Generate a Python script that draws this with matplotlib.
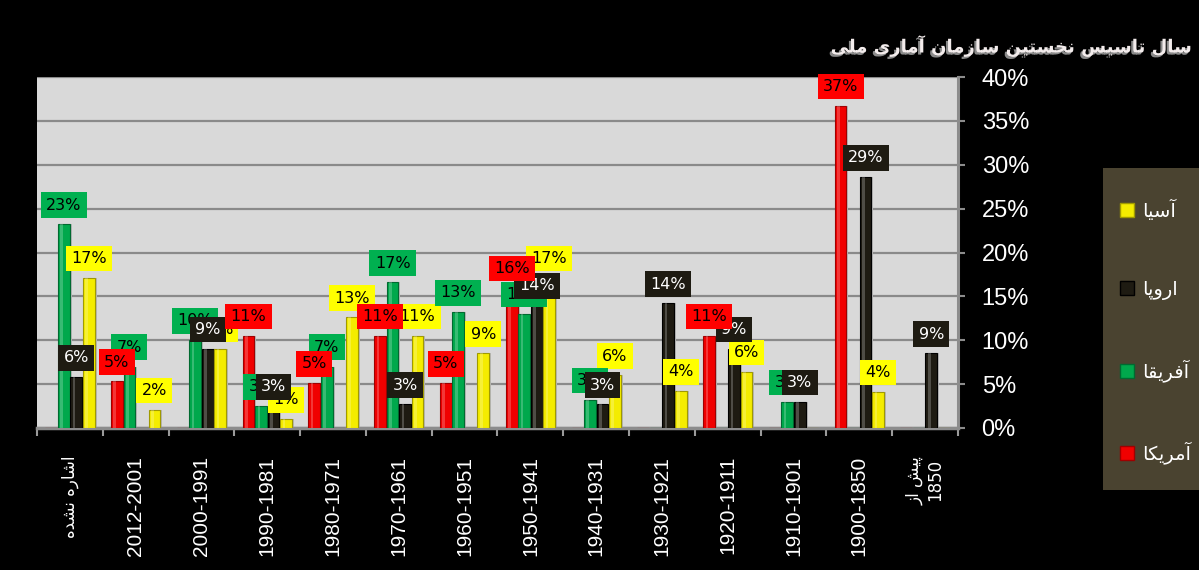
import numpy as np
import matplotlib
matplotlib.use("Agg")
import matplotlib.pyplot as plt
import matplotlib.patheffects as pe
from matplotlib.patches import Rectangle, Patch
from matplotlib.ticker import FuncFormatter, FixedLocator

# ---------------- data ----------------
categories = ['اشاره نشده', '2012-2001', '2000-1991', '1990-1981', '1980-1971',
              '1970-1961', '1960-1951', '1950-1941', '1940-1931', '1930-1921',
              '1920-1911', '1910-1901', '1900-1850', 'پیش از\n1850']
series_names = ['آمریکا', 'آفریقا', 'اروپا', 'آسیا']
america = [0, 5.3, 0, 10.5, 5.1, 10.5, 5.1, 16, 0, 0, 10.5, 0, 36.7, 0]
africa = [23.2, 7, 10, 2.5, 7, 16.6, 13.2, 13, 3.2, 0, 0, 3, 0, 0]
europe = [5.8, 0, 9, 2.5, 0, 2.7, 0, 14, 2.7, 14.2, 9, 3, 28.6, 8.5]
asia = [17.1, 2.05, 9, 1, 12.6, 10.5, 8.5, 17.1, 6, 4.2, 6.4, 0, 4.1, 0]
title = 'سال تاسیس نخستین سازمان آماری ملی'
yticks = [0, 5, 10, 15, 20, 25, 30, 35, 40]

# ---------------- simple Persian shaping (presentation forms, visual order) ----------------
FORMS = {
    '\u0627': ('\uFE8D', '\uFE8E', None, None),
    '\u0622': ('\uFE81', '\uFE82', None, None),
    '\u0628': ('\uFE8F', '\uFE90', '\uFE91', '\uFE92'),
    '\u067E': ('\uFB56', '\uFB57', '\uFB58', '\uFB59'),
    '\u062A': ('\uFE95', '\uFE96', '\uFE97', '\uFE98'),
    '\u062E': ('\uFEA5', '\uFEA6', '\uFEA7', '\uFEA8'),
    '\u062F': ('\uFEA9', '\uFEAA', None, None),
    '\u0631': ('\uFEAD', '\uFEAE', None, None),
    '\u0632': ('\uFEAF', '\uFEB0', None, None),
    '\u0633': ('\uFEB1', '\uFEB2', '\uFEB3', '\uFEB4'),
    '\u0634': ('\uFEB5', '\uFEB6', '\uFEB7', '\uFEB8'),
    '\u0641': ('\uFED1', '\uFED2', '\uFED3', '\uFED4'),
    '\u0642': ('\uFED5', '\uFED6', '\uFED7', '\uFED8'),
    '\u06A9': ('\uFB8E', '\uFB8F', '\uFB90', '\uFB91'),
    '\u0644': ('\uFEDD', '\uFEDE', '\uFEDF', '\uFEE0'),
    '\u0645': ('\uFEE1', '\uFEE2', '\uFEE3', '\uFEE4'),
    '\u0646': ('\uFEE5', '\uFEE6', '\uFEE7', '\uFEE8'),
    '\u0647': ('\uFEE9', '\uFEEA', '\uFEEB', '\uFEEC'),
    '\u0648': ('\uFEED', '\uFEEE', None, None),
    '\u06CC': ('\uFBFC', '\uFBFD', '\uFBFE', '\uFBFF'),
}


def shape_line(text):
    text = text.replace('\u064A', '\u06CC').replace('\u0643', '\u06A9')
    out = []
    n = len(text)
    for i, ch in enumerate(text):
        if ch not in FORMS:
            out.append(ch)
            continue
        f = FORMS[ch]
        prev = text[i - 1] if i > 0 else None
        nxt = text[i + 1] if i + 1 < n else None
        jp = prev in FORMS and FORMS[prev][2] is not None
        jn = nxt in FORMS and f[2] is not None
        if jp and jn:
            out.append(f[3])
        elif jp:
            out.append(f[1])
        elif jn:
            out.append(f[2])
        else:
            out.append(f[0])
    if any(c in FORMS for c in text):
        return ''.join(reversed(out))
    return ''.join(out)


def shape(text):
    return '\n'.join(shape_line(l) for l in text.split('\n'))


# ---------------- figure ----------------
W, H = 1199, 570
fig = plt.figure(figsize=(W / 100, H / 100), dpi=100, facecolor='black')
ax = fig.add_axes([37 / W, 1 - 428 / H, (958 - 37) / W, (428 - 77) / H])
ax.set_facecolor('#d9d9d9')

colors = ['#f00000', '#00a84c', '#1e1b12', '#f4ec00']
label_bg = ['#ff0000', '#00b050', '#1e1b12', '#ffff00']
label_fg = ['black', 'black', 'white', 'black']
edge = ['#a00000', '#006a30', '#000000', '#a09a00']
label_z = [14, 11, 13, 10]
data = [america, africa, europe, asia]

x = np.arange(len(categories))
bw = 0.18
offsets = [-0.285, -0.095, 0.095, 0.285]

ax.set_xlim(-0.5, len(categories) - 0.5)
ax.set_ylim(0, 40)
ax.set_axisbelow(True)
ax.yaxis.grid(True, color='#8a8a8a', lw=1.6)

for vals, off, c, ec in zip(data, offsets, colors, edge):
    v = np.array(vals, dtype=float)
    # shadow
    ax.bar(x + off + 0.03, v, width=bw, color='#b5b5b5', zorder=2, lw=0)
    ax.bar(x + off, v, width=bw, color=c, edgecolor=ec, lw=0.8, zorder=3)
    # highlight stripe
    ax.bar(x + off - bw * 0.18, v, width=bw * 0.22, color='white', alpha=0.22,
           zorder=4, lw=0)

for vals, off, bg, fg, z in zip(data, offsets, label_bg, label_fg, label_z):
    for xi, v in zip(x, vals):
        if v <= 0:
            continue
        ax.annotate(f'{int(v + 0.5)}%', (xi + off, v), xytext=(0, 8.5),
                    textcoords='offset points', ha='center', va='bottom',
                    fontsize=11.5, color=fg, family='DejaVu Sans', zorder=z,
                    bbox=dict(boxstyle='square,pad=0.33', fc=bg, ec='none'),
                    annotation_clip=False)

# axes styling
for s in ['top', 'left']:
    ax.spines[s].set_visible(False)
ax.spines['right'].set_color('#8c8c8c')
ax.spines['right'].set_linewidth(2.2)
ax.spines['bottom'].set_color('#8c8c8c')
ax.spines['bottom'].set_linewidth(2.5)

ax.yaxis.tick_right()
ax.set_yticks(yticks)
ax.yaxis.set_major_formatter(FuncFormatter(lambda v, p: f'{int(v)}%'))
ax.tick_params(axis='y', colors='#8c8c8c', length=5, width=1.5, pad=12,
               labelcolor='white', labelsize=17)
for t in ax.get_yticklabels():
    t.set_family(['Liberation Sans', 'DejaVu Sans'])

ax.set_xticks(x)
ax.set_xticklabels([shape(c) for c in categories], rotation=90, va='top',
                   ha='center', color='white', fontsize=15,
                   family=['Liberation Sans', 'DejaVu Sans'])
ax.tick_params(axis='x', length=0, pad=20)
ax.xaxis.set_minor_locator(FixedLocator(np.arange(len(categories) + 1) - 0.5))
ax.tick_params(axis='x', which='minor', length=6, width=1.5, color='#9a9a9a')
for t in ax.get_xticklabels():
    if any(ord(ch) > 0x600 for ch in t.get_text()):
        t.set_fontsize(12)
        t.set_family('DejaVu Sans')

# title
fig.text(1192 / W, 1 - 46 / H, shape(title), ha='right', va='center',
         fontsize=13, fontweight='bold', color='#f3ecec', family='DejaVu Sans',
         path_effects=[pe.withSimplePatchShadow(offset=(-1.5, -1.5),
                                                shadow_rgbFace='#8a8a8a',
                                                alpha=1)])

# legend
fig.patches.append(Rectangle((1103 / W, 1 - 490 / H), 100 / W, 322 / H,
                             transform=fig.transFigure, fc='#4a4330', ec='none',
                             zorder=0))
leg_handles = [Patch(fc=c, ec=e) for c, e in zip(colors, edge)][::-1]
leg = fig.legend(leg_handles, [shape(s) for s in series_names][::-1],
                 loc='center left', bbox_to_anchor=(1102 / W, 1 - 332 / H),
                 frameon=False, labelspacing=3.05,
                 handlelength=0.72, handleheight=0.72, handletextpad=0.45,
                 prop={'family': 'DejaVu Sans', 'size': 14})
for t in leg.get_texts():
    t.set_color('white')

fig.savefig('out.png', dpi=100, facecolor='black')
